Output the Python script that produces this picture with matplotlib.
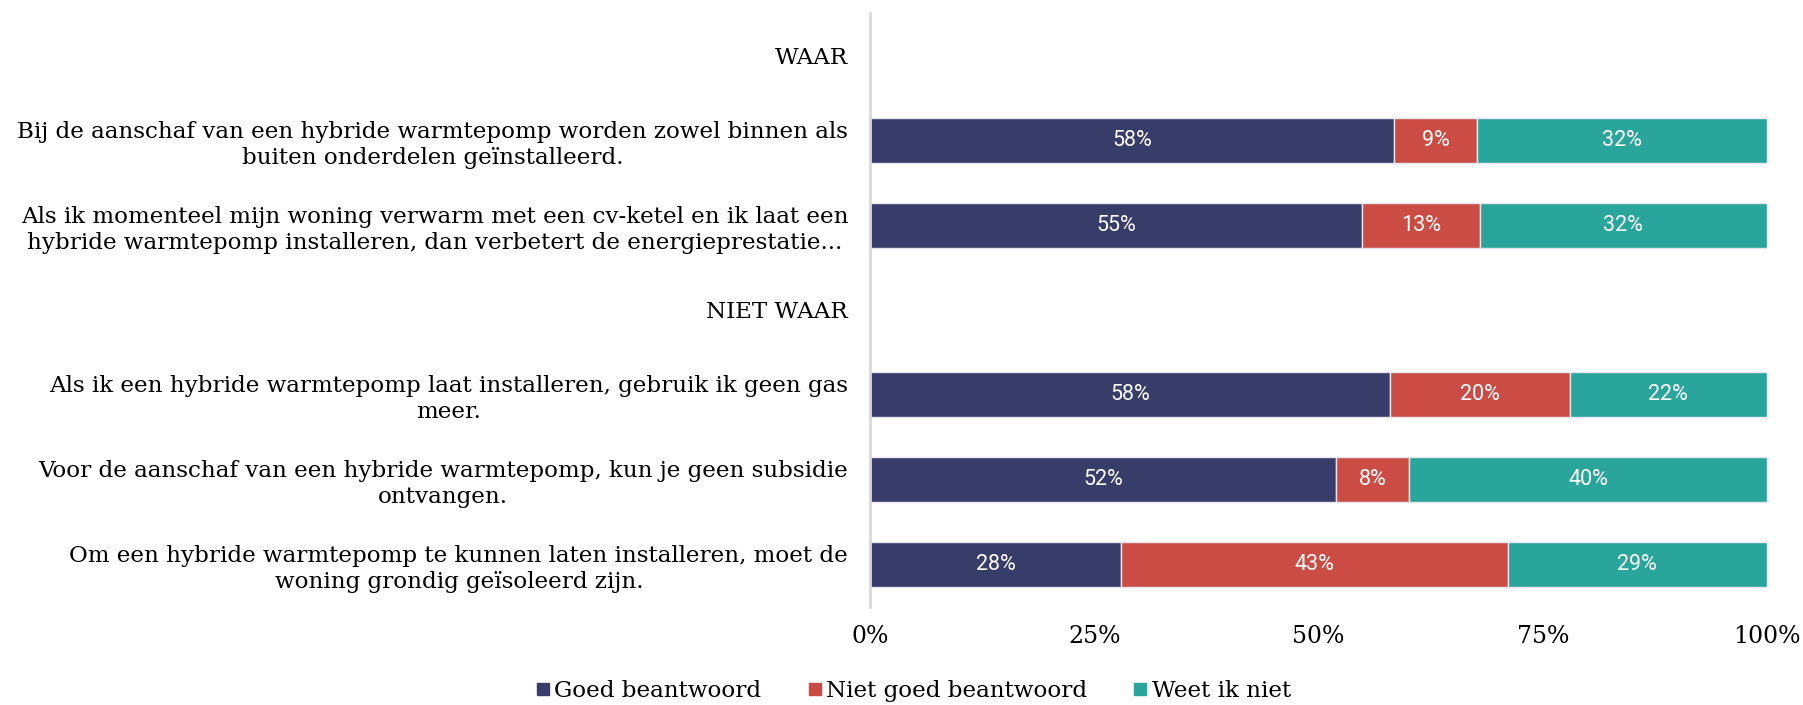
import matplotlib
matplotlib.use("Agg")
import matplotlib.pyplot as plt
from matplotlib.lines import Line2D
import numpy as np

# ---- data ----
groups = ["WAAR", "NIET WAAR"]
statements_waar = [
    "Bij de aanschaf van een hybride warmtepomp worden zowel binnen als\nbuiten onderdelen geïnstalleerd.",
    "Als ik momenteel mijn woning verwarm met een cv-ketel en ik laat een\nhybride warmtepomp installeren, dan verbetert de energieprestatie...",
]
statements_niet_waar = [
    "Als ik een hybride warmtepomp laat installeren, gebruik ik geen gas\nmeer.",
    "Voor de aanschaf van een hybride warmtepomp, kun je geen subsidie\nontvangen.",
    "Om een hybride warmtepomp te kunnen laten installeren, moet de\nwoning grondig geïsoleerd zijn.",
]
series = ["Goed beantwoord", "Niet goed beantwoord", "Weet ik niet"]
goed_waar = [58.4, 54.9]
niet_goed_waar = [9.3, 13.1]
weet_niet_waar = [32.3, 32.0]
goed_niet_waar = [58.0, 52.0, 28.0]
niet_goed_niet_waar = [20.0, 8.1, 43.1]
weet_niet_niet_waar = [22.0, 39.9, 28.9]
xticks = [0, 25, 50, 75, 100]
xtick_labels = ["0%", "25%", "50%", "75%", "100%"]

colors = ["#383C69", "#CB4C44", "#2AA59B"]

# ---- build rows (header rows without bars) ----
labels = []
values = []
labels.append(groups[0]); values.append(None)
for i, s in enumerate(statements_waar):
    labels.append(s); values.append((goed_waar[i], niet_goed_waar[i], weet_niet_waar[i]))
labels.append(groups[1]); values.append(None)
for i, s in enumerate(statements_niet_waar):
    labels.append(s); values.append((goed_niet_waar[i], niet_goed_niet_waar[i], weet_niet_niet_waar[i]))

serif = ["DejaVu Serif"]

fig = plt.figure(figsize=(18.03, 7.05), dpi=100)
ax = fig.add_axes([0.4825, 0.139, 0.4975, 0.8426])

ypos = np.arange(len(labels))
for k in range(3):
    lefts, widths, ys = [], [], []
    for y, v in zip(ypos, values):
        if v is None:
            continue
        lefts.append(sum(v[:k]))
        widths.append(v[k])
        ys.append(y)
    bars = ax.barh(ys, widths, left=lefts, height=0.53, color=colors[k],
                   edgecolor="#E6E6EE", linewidth=1.0, label=series[k])
    for b, w in zip(bars, widths):
        ax.text(b.get_x() + b.get_width() / 2, b.get_y() + b.get_height() / 2,
                f"{round(w):.0f}%", ha="center", va="center", color="white",
                fontsize=15.5, family=["Roboto", "DejaVu Sans"])

ax.set_xlim(0, 100)
ax.set_ylim(len(labels) - 0.5, -0.5)
ax.set_yticks(ypos)
ax.set_yticklabels(labels, family=serif, fontsize=16.6, multialignment="center",
                   linespacing=1.24)
ax.set_xticks(xticks)
ax.set_xticklabels(xtick_labels, family=serif, fontsize=17)
ax.tick_params(axis="y", length=0, pad=15.7)
ax.tick_params(axis="x", length=0, pad=13)
for side in ["top", "right", "bottom"]:
    ax.spines[side].set_visible(False)
ax.spines["left"].set_color("#D9D9D9")
ax.spines["left"].set_linewidth(2)

handles = [Line2D([0], [0], marker="s", linestyle="none", markersize=8,
                  markerfacecolor=c, markeredgecolor=c) for c in colors]
fig.legend(handles, series, loc="lower center", bbox_to_anchor=(0.506, -0.025),
           ncol=3, frameon=False, prop={"family": serif, "size": 16.6},
           handletextpad=0.1, columnspacing=1.9, handlelength=0.8)

fig.savefig("out.png", dpi=100, facecolor="white")
